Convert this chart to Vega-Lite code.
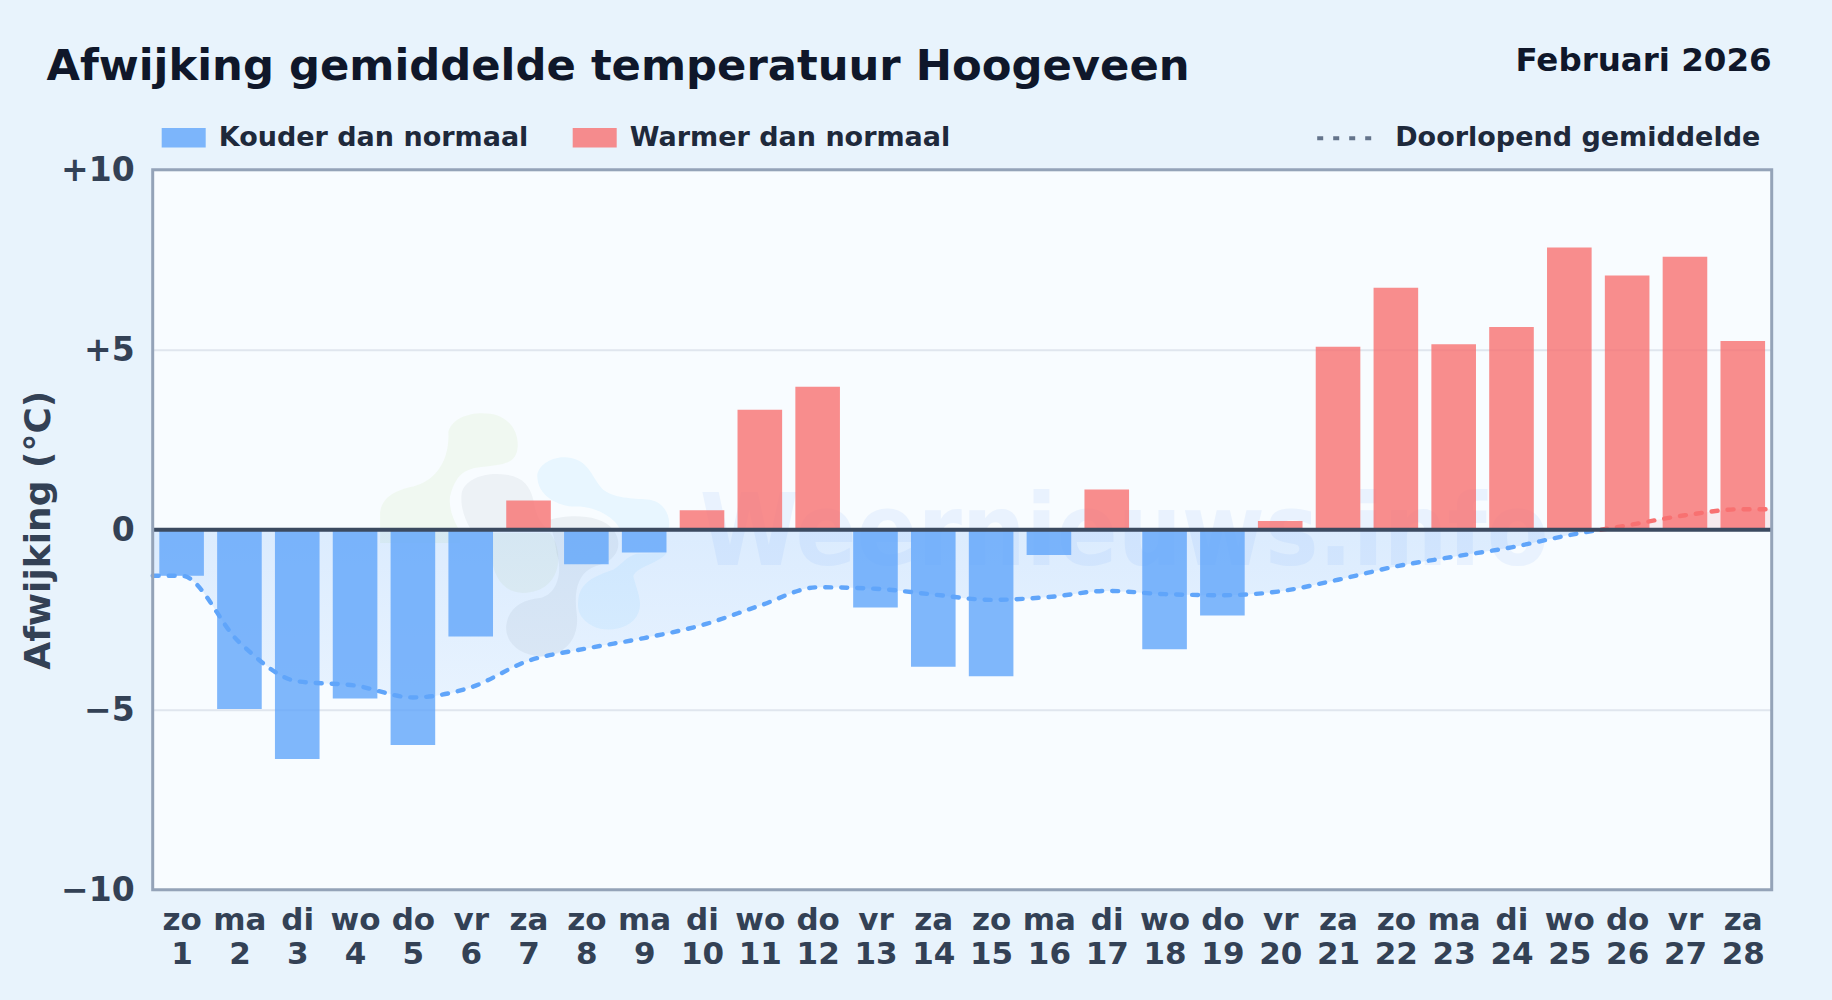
{
"$schema":"https://vega.github.io/schema/vega-lite/v6.json",
"width":1619,"height":720,
"autosize":{"type":"none"},
"padding":{"left":152.7,"top":169.7,"right":60.3,"bottom":110.3},
"background":"#e8f3fc",
"title":{"text":"Afwijking gemiddelde temperatuur Hoogeveen","anchor":"start","frame":"group","dx":-106.3,"offset":-78.5,"baseline":"alphabetic","font":"DejaVu Sans","fontSize":43.3,"fontWeight":"bold","color":"#0f172a"},
"config":{"font":"DejaVu Sans","view":{"stroke":null,"fill":"#f8fcff"}},
"datasets":{
"dagen":[
{"dag":1,"afwijking":-1.28,"soort":"Kouder dan normaal"},
{"dag":2,"afwijking":-4.98,"soort":"Kouder dan normaal"},
{"dag":3,"afwijking":-6.37,"soort":"Kouder dan normaal"},
{"dag":4,"afwijking":-4.69,"soort":"Kouder dan normaal"},
{"dag":5,"afwijking":-5.98,"soort":"Kouder dan normaal"},
{"dag":6,"afwijking":-2.97,"soort":"Kouder dan normaal"},
{"dag":7,"afwijking":0.81,"soort":"Warmer dan normaal"},
{"dag":8,"afwijking":-0.96,"soort":"Kouder dan normaal"},
{"dag":9,"afwijking":-0.63,"soort":"Kouder dan normaal"},
{"dag":10,"afwijking":0.54,"soort":"Warmer dan normaal"},
{"dag":11,"afwijking":3.33,"soort":"Warmer dan normaal"},
{"dag":12,"afwijking":3.97,"soort":"Warmer dan normaal"},
{"dag":13,"afwijking":-2.16,"soort":"Kouder dan normaal"},
{"dag":14,"afwijking":-3.81,"soort":"Kouder dan normaal"},
{"dag":15,"afwijking":-4.07,"soort":"Kouder dan normaal"},
{"dag":16,"afwijking":-0.7,"soort":"Kouder dan normaal"},
{"dag":17,"afwijking":1.12,"soort":"Warmer dan normaal"},
{"dag":18,"afwijking":-3.32,"soort":"Kouder dan normaal"},
{"dag":19,"afwijking":-2.38,"soort":"Kouder dan normaal"},
{"dag":20,"afwijking":0.24,"soort":"Warmer dan normaal"},
{"dag":21,"afwijking":5.08,"soort":"Warmer dan normaal"},
{"dag":22,"afwijking":6.72,"soort":"Warmer dan normaal"},
{"dag":23,"afwijking":5.15,"soort":"Warmer dan normaal"},
{"dag":24,"afwijking":5.63,"soort":"Warmer dan normaal"},
{"dag":25,"afwijking":7.84,"soort":"Warmer dan normaal"},
{"dag":26,"afwijking":7.06,"soort":"Warmer dan normaal"},
{"dag":27,"afwijking":7.58,"soort":"Warmer dan normaal"},
{"dag":28,"afwijking":5.24,"soort":"Warmer dan normaal"}
],
"gemiddeld":[
{"dag":0.5,"gem":-1.28,"teken":"neg","reeks":"Doorlopend gemiddelde"},
{"dag":1,"gem":-1.28,"teken":"neg","reeks":"Doorlopend gemiddelde"},
{"dag":2,"gem":-3.13,"teken":"neg","reeks":"Doorlopend gemiddelde"},
{"dag":3,"gem":-4.21,"teken":"neg","reeks":"Doorlopend gemiddelde"},
{"dag":4,"gem":-4.33,"teken":"neg","reeks":"Doorlopend gemiddelde"},
{"dag":5,"gem":-4.66,"teken":"neg","reeks":"Doorlopend gemiddelde"},
{"dag":6,"gem":-4.38,"teken":"neg","reeks":"Doorlopend gemiddelde"},
{"dag":7,"gem":-3.64,"teken":"neg","reeks":"Doorlopend gemiddelde"},
{"dag":8,"gem":-3.3,"teken":"neg","reeks":"Doorlopend gemiddelde"},
{"dag":9,"gem":-3.01,"teken":"neg","reeks":"Doorlopend gemiddelde"},
{"dag":10,"gem":-2.65,"teken":"neg","reeks":"Doorlopend gemiddelde"},
{"dag":11,"gem":-2.11,"teken":"neg","reeks":"Doorlopend gemiddelde"},
{"dag":12,"gem":-1.6,"teken":"neg","reeks":"Doorlopend gemiddelde"},
{"dag":13,"gem":-1.64,"teken":"neg","reeks":"Doorlopend gemiddelde"},
{"dag":14,"gem":-1.8,"teken":"neg","reeks":"Doorlopend gemiddelde"},
{"dag":15,"gem":-1.95,"teken":"neg","reeks":"Doorlopend gemiddelde"},
{"dag":16,"gem":-1.87,"teken":"neg","reeks":"Doorlopend gemiddelde"},
{"dag":17,"gem":-1.7,"teken":"neg","reeks":"Doorlopend gemiddelde"},
{"dag":18,"gem":-1.79,"teken":"neg","reeks":"Doorlopend gemiddelde"},
{"dag":19,"gem":-1.82,"teken":"neg","reeks":"Doorlopend gemiddelde"},
{"dag":20,"gem":-1.71,"teken":"neg","reeks":"Doorlopend gemiddelde"},
{"dag":21,"gem":-1.39,"teken":"neg","reeks":"Doorlopend gemiddelde"},
{"dag":22,"gem":-1.02,"teken":"neg","reeks":"Doorlopend gemiddelde"},
{"dag":23,"gem":-0.75,"teken":"neg","reeks":"Doorlopend gemiddelde"},
{"dag":24,"gem":-0.49,"teken":"neg","reeks":"Doorlopend gemiddelde"},
{"dag":25,"gem":-0.15,"teken":"neg","reeks":"Doorlopend gemiddelde"},
{"dag":25.55,"gem":0,"teken":"neg","reeks":"Doorlopend gemiddelde"},
{"dag":25.55,"gem":0,"teken":"pos","reeks":"Doorlopend gemiddelde"},
{"dag":26,"gem":0.12,"teken":"pos","reeks":"Doorlopend gemiddelde"},
{"dag":27,"gem":0.4,"teken":"pos","reeks":"Doorlopend gemiddelde"},
{"dag":28,"gem":0.57,"teken":"pos","reeks":"Doorlopend gemiddelde"},
{"dag":28.5,"gem":0.57,"teken":"pos","reeks":"Doorlopend gemiddelde"}
],
"logo":[{"x":6.852,"y":-0.093}]
},
"data":{"name":"dagen"},
"layer":[
{"data":{"name":"logo"},"mark":{"type":"point","filled":true,"size":0.444,"opacity":0.09,"color":"#a3d060","shape":"M-215,-305C-200,-350,-140,-365,-90,-358C-30,-350,0,-300,-8,-250C-15,-210,-50,-205,-100,-200C-160,-195,-190,-185,-210,-110C-215,-70,-195,-30,-180,-5L-180,30L-420,30L-420,-60C-415,-110,-370,-130,-320,-140C-260,-155,-210,-210,-215,-305Z"},
"encoding":{"x":{"field":"x","type":"quantitative","scale":{"domain":[0.5,28.5],"nice":false,"zero":false,"padding":0},
"axis":{"title":null,"values":[1,2,3,4,5,6,7,8,9,10,11,12,13,14,15,16,17,18,19,20,21,22,23,24,25,26,27,28],"grid":false,"ticks":false,"domain":false,"labelFontSize":31,"labelFontWeight":"bold","labelColor":"#334155","labelPadding":16,"labelLineHeight":34,"labelBaseline":"top","labelOverlap":false,"labelBound":false,"labelFlush":false,
"labelExpr":"[['zo','ma','di','wo','do','vr','za'][(datum.value-1)%7], ''+datum.value]"}},
"y":{"field":"y","type":"quantitative","scale":{"domain":[-10,10],"nice":false},
"axis":{"title":"Afwijking (°C)","titleFontSize":36,"titleFontWeight":"bold","titleColor":"#334155","titleX":-114,"titleBaseline":"middle","values":[-10,-5,0,5,10],"grid":true,"gridColor":"#e0e6ee","gridWidth":2,"ticks":false,"domain":false,"labelFontSize":33,"labelFontWeight":"bold","labelColor":"#334155","labelPadding":18.6,"labelOffset":1,
"labelExpr":"datum.value>0?'+'+datum.value:(datum.value<0?'−'+abs(datum.value):'0')"}}}},
{"data":{"name":"logo"},"mark":{"type":"point","filled":true,"size":0.444,"opacity":0.06,"color":"#475569","shape":"M-175,-120C-165,-165,-100,-185,-40,-175C10,-168,30,-140,40,-100C45,-60,60,-30,80,-15L-150,-15C-165,-40,-180,-80,-175,-120Z"},
"encoding":{"x":{"field":"x","type":"quantitative"},"y":{"field":"y","type":"quantitative"}}},
{"data":{"name":"logo"},"mark":{"type":"point","filled":true,"size":0.444,"opacity":0.09,"color":"#a3c060","shape":"M-85,0L90,0C130,50,130,160,30,178C-40,190,-80,140,-85,70Z"},
"encoding":{"x":{"field":"x","type":"quantitative"},"y":{"field":"y","type":"quantitative"}}},
{"data":{"name":"logo"},"mark":{"type":"point","filled":true,"size":0.444,"opacity":0.07,"color":"#475569","shape":"M90,-40C140,-55,240,-60,280,-10C310,30,295,80,240,95C180,110,160,160,170,240C180,310,140,370,60,370C-10,365,-50,320,-40,270C-30,220,10,200,60,195C110,185,130,120,110,60C105,20,95,-10,90,-40Z"},
"encoding":{"x":{"field":"x","type":"quantitative"},"y":{"field":"y","type":"quantitative"}}},
{"data":{"name":"logo"},"mark":{"type":"point","filled":true,"size":0.444,"opacity":0.13,"color":"#7dd3fc","shape":"M52,-175C60,-220,130,-240,170,-220C210,-205,220,-160,250,-130C290,-100,350,-105,390,-100C440,-90,455,-40,445,-10L300,-10C290,-40,240,-75,180,-80C120,-75,50,-110,52,-175Z"},
"encoding":{"x":{"field":"x","type":"quantitative"},"y":{"field":"y","type":"quantitative"}}},
{"data":{"name":"logo"},"mark":{"type":"point","filled":true,"size":0.444,"opacity":0.13,"color":"#7dd3fc","shape":"M175,200C180,150,220,130,280,110C310,90,320,70,350,62L440,60C420,90,350,100,340,130C350,170,370,210,355,240C335,290,260,300,220,280C185,260,170,240,175,200Z"},
"encoding":{"x":{"field":"x","type":"quantitative"},"y":{"field":"y","type":"quantitative"}}},
{"data":{"values":[{"x":17.3,"y":-0.97,"t":"Weernieuws.info"}]},"mark":{"type":"text","align":"center","baseline":"alphabetic","font":"DejaVu Sans Condensed","fontSize":100,"fontWeight":"bold","color":"#3b82f6","opacity":0.075},
"encoding":{"x":{"field":"x","type":"quantitative"},"y":{"field":"y","type":"quantitative"},"text":{"field":"t"}}},
{"data":{"name":"gemiddeld"},"transform":[{"filter":"datum.teken=='neg'"}],"mark":{"type":"area","interpolate":"monotone","color":{"gradient":"linear","x1":0,"y1":0,"x2":0,"y2":1,"stops":[{"offset":0,"color":"rgba(96,165,250,0.19)"},{"offset":1,"color":"rgba(96,165,250,0.11)"}]}},
"encoding":{"x":{"field":"dag","type":"quantitative"},"y":{"field":"gem","type":"quantitative"},"y2":{"datum":0}}},
{"data":{"name":"gemiddeld"},"transform":[{"filter":"datum.teken=='pos'"}],"mark":{"type":"area","interpolate":"monotone","color":"#f87171","opacity":0.12},
"encoding":{"x":{"field":"dag","type":"quantitative"},"y":{"field":"gem","type":"quantitative"},"y2":{"datum":0}}},
{"mark":{"type":"bar","size":44.6,"opacity":0.8},
"encoding":{"x":{"field":"dag","type":"quantitative"},"y":{"field":"afwijking","type":"quantitative"},"y2":{"datum":0},
"color":{"field":"soort","type":"nominal","scale":{"domain":["Kouder dan normaal","Warmer dan normaal"],"range":["#60a5fa","#f87171"]},
"legend":{"title":null,"orient":"none","legendX":9,"legendY":-54,"direction":"horizontal","symbolType":"M-1,-0.44H1V0.44H-1Z","symbolSize":1936,"symbolStrokeWidth":0,"symbolOpacity":0.8,"labelFontSize":27,"labelFontWeight":"bold","labelColor":"#1e293b","labelOffset":13,"columnPadding":44,"labelLimit":500,"labelFont":"DejaVu Sans"}}}},
{"data":{"name":"gemiddeld"},"mark":{"type":"line","interpolate":"monotone","strokeWidth":4.4,"strokeCap":"round"},
"encoding":{"x":{"field":"dag","type":"quantitative"},"y":{"field":"gem","type":"quantitative"},
"stroke":{"field":"teken","type":"nominal","scale":{"domain":["neg","pos"],"range":["#60a5fa","#f87171"]},"legend":null},
"strokeDash":{"field":"reeks","type":"nominal","scale":{"domain":["Doorlopend gemiddelde"],"range":[[6,10]]},
"legend":{"title":null,"orient":"none","legendX":1162.5,"legendY":-61,"symbolType":"stroke","symbolSize":3025,"labelFontSize":27,"labelFontWeight":"bold","labelColor":"#1e293b","labelOffset":21,"labelLimit":500,"encode":{"symbols":{"update":{"stroke":{"value":"#64748b"},"strokeDash":{"value":[4,13]},"strokeWidth":{"value":4},"strokeCap":{"value":"butt"}}}}}}}},
{"data":{"values":[{"nul":0}]},"mark":{"type":"rule","color":"#3b4a60","strokeWidth":4},
"encoding":{"y":{"field":"nul","type":"quantitative"}}},
{"data":{"values":[{"a":0.5,"b":28.5,"c":-10,"d":10}]},"mark":{"type":"rect","fill":null,"stroke":"#94a3b8","strokeWidth":3},
"encoding":{"x":{"field":"a","type":"quantitative"},"x2":{"field":"b"},"y":{"field":"c","type":"quantitative"},"y2":{"field":"d"}}},
{"data":{"values":[{"x":28.5,"y":10,"t":"Februari 2026"}]},"mark":{"type":"text","align":"right","baseline":"alphabetic","dy":-99,"font":"DejaVu Sans","fontSize":32.5,"fontWeight":"bold","color":"#0f172a"},
"encoding":{"x":{"field":"x","type":"quantitative"},"y":{"field":"y","type":"quantitative"},"text":{"field":"t"}}}
]
}
